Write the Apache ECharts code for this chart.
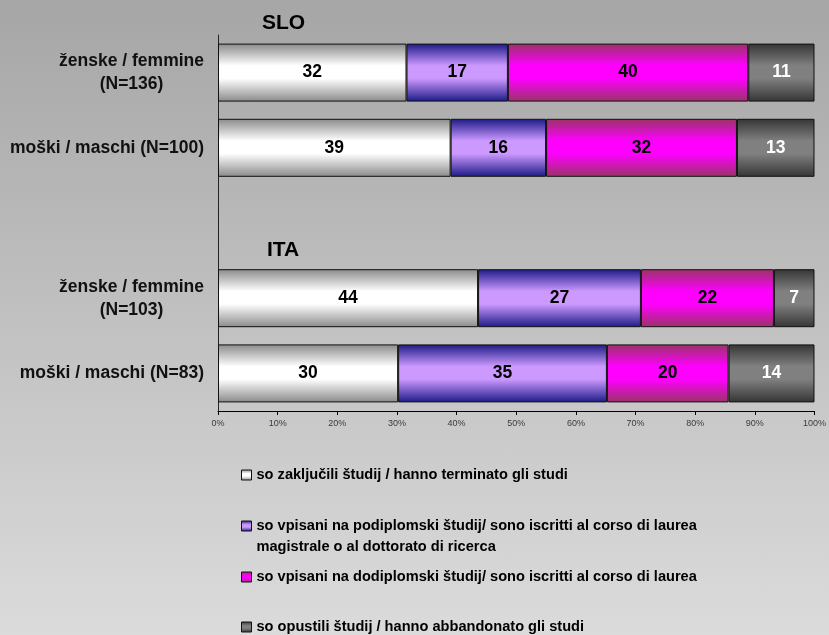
<!DOCTYPE html>
<html>
<head>
    <meta charset="utf-8">
    <title>Študij po spolu</title>
    <script src="https://cdn.jsdelivr.net/npm/echarts@6/dist/echarts.min.js"></script>
    <style>
        html, body { margin: 0; padding: 0; }
        #main {
            width: 829px;
            height: 635px;
            background: linear-gradient(to bottom, #a6a6a6 0%, #dbdbdb 100%);
        }
    </style>
</head>
<body>
<div id="main"></div>
<script type="text/javascript">
    // kategorije (prazno mesto loci SLO in ITA)
    var categories = [
        'ženske / femmine\n(N=136)',
        'moški / maschi (N=100)',
        '',
        'ženske / femmine\n(N=103)',
        'moški / maschi (N=83)'
    ];
    var groupTitles = ['SLO', 'ITA'];
    var xTicks = [0, 10, 20, 30, 40, 50, 60, 70, 80, 90, 100];

    var seriesNames = [
        'so zaključili študij / hanno terminato gli studi',
        'so vpisani na podiplomski študij/ sono iscritti al corso di laurea\nmagistrale o al dottorato di ricerca',
        'so vpisani na dodiplomski študij/ sono iscritti al corso di laurea',
        'so opustili študij / hanno abbandonato gli studi'
    ];

    // deleži v %
    var completed = [31.6, 39.0, null, 43.6, 30.2];
    var postgrad  = [17.0, 16.0, null, 27.3, 35.0];
    var undergrad = [40.3, 32.0, null, 22.3, 20.4];
    var dropped   = [11.1, 13.0, null, 6.8, 14.4];

    var FONT = 'Liberation Sans, Arial, sans-serif';

    function grad(edge, mid) {
        return new echarts.graphic.LinearGradient(0, 0, 0, 1, [
            {offset: 0, color: edge},
            {offset: 0.38, color: mid},
            {offset: 0.6, color: mid},
            {offset: 1, color: edge}
        ]);
    }

    var fills = [
        grad('#8a8a8a', '#ffffff'),
        grad('#1c1a86', '#cc99ff'),
        grad('#993366', '#ff00ff'),
        grad('#353535', '#808080')
    ];
    var labelColors = ['#000', '#000', '#000', '#fff'];
    var values = [completed, postgrad, undergrad, dropped];

    var series = [];
    for (var i = 0; i < values.length; i++) {
        series.push({
            name: seriesNames[i],
            type: 'bar',
            stack: 'total',
            barWidth: 58,
            data: values[i],
            itemStyle: {
                color: fills[i],
                borderColor: '#111',
                borderWidth: 1
            },
            label: {
                show: true,
                position: 'inside',
                color: labelColors[i],
                fontFamily: FONT,
                fontWeight: 'bold',
                fontSize: 17.5,
                formatter: function (p) {
                    return p.value == null ? '' : Math.round(p.value);
                }
            },
            emphasis: {disabled: true}
        });
    }

    // legenda - vsak element posebej, kot v originalu
    var legendTops = [464.5, 494.5, 566.5, 616.5];
    var legends = [];
    for (var j = 0; j < seriesNames.length; j++) {
        legends.push({
            data: [seriesNames[j]],
            left: 241,
            top: legendTops[j],
            icon: 'rect',
            itemWidth: 10,
            itemHeight: 10,
            itemGap: 3,
            selectedMode: false,
            padding: 0,
            itemStyle: {borderColor: '#111', borderWidth: 1},
            // dvovrsticni tekst: prazna vrstica zgoraj, da je simbol ob prvi vrstici
            formatter: function (name) {
                return name.indexOf('\n') >= 0 ? ' \n' + name : name;
            },
            textStyle: {
                color: '#000',
                fontFamily: FONT,
                fontWeight: 'bold',
                fontSize: 14.6,
                lineHeight: 21
            }
        });
    }

    var option = {
        backgroundColor: 'transparent',
        animation: false,
        title: [{
            text: groupTitles[0],
            left: 262,
            top: 13,
            padding: 0,
            textStyle: {fontFamily: FONT, fontWeight: 'bold', fontSize: 21, color: '#000', lineHeight: 21}
        }, {
            text: groupTitles[1],
            left: 267,
            top: 240,
            padding: 0,
            textStyle: {fontFamily: FONT, fontWeight: 'bold', fontSize: 21, color: '#000', lineHeight: 21}
        }],
        legend: legends,
        grid: {
            left: 218,
            right: 12,
            top: 35,
            bottom: 224,
            containLabel: false
        },
        xAxis: {
            type: 'value',
            min: xTicks[0],
            max: xTicks[xTicks.length - 1],
            interval: xTicks[1] - xTicks[0],
            axisLine: {show: true, lineStyle: {color: '#000', width: 1}},
            axisTick: {show: true, length: 4, lineStyle: {color: '#000'}},
            splitLine: {show: false},
            axisLabel: {
                formatter: '{value}%',
                fontFamily: FONT,
                fontSize: 9,
                color: '#3a3a3a',
                margin: 8
            }
        },
        yAxis: {
            type: 'category',
            data: categories,
            inverse: true,
            axisLine: {show: true, lineStyle: {color: '#222', width: 1}},
            axisTick: {show: false},
            splitLine: {show: false},
            axisLabel: {
                margin: 14,
                formatter: function (v) {
                    if (!v) return '';
                    return v.split('\n').map(function (s) {
                        return '{c|' + s + '}';
                    }).join('\n');
                },
                rich: {
                    c: {
                        align: 'center',
                        fontFamily: FONT,
                        fontWeight: 'bold',
                        fontSize: 17.5,
                        lineHeight: 23,
                        color: '#111'
                    }
                }
            }
        },
        series: series
    };

    var chart = echarts.init(document.getElementById('main'), null, {renderer: 'canvas'});
    chart.setOption(option);
</script>
</body>
</html>
